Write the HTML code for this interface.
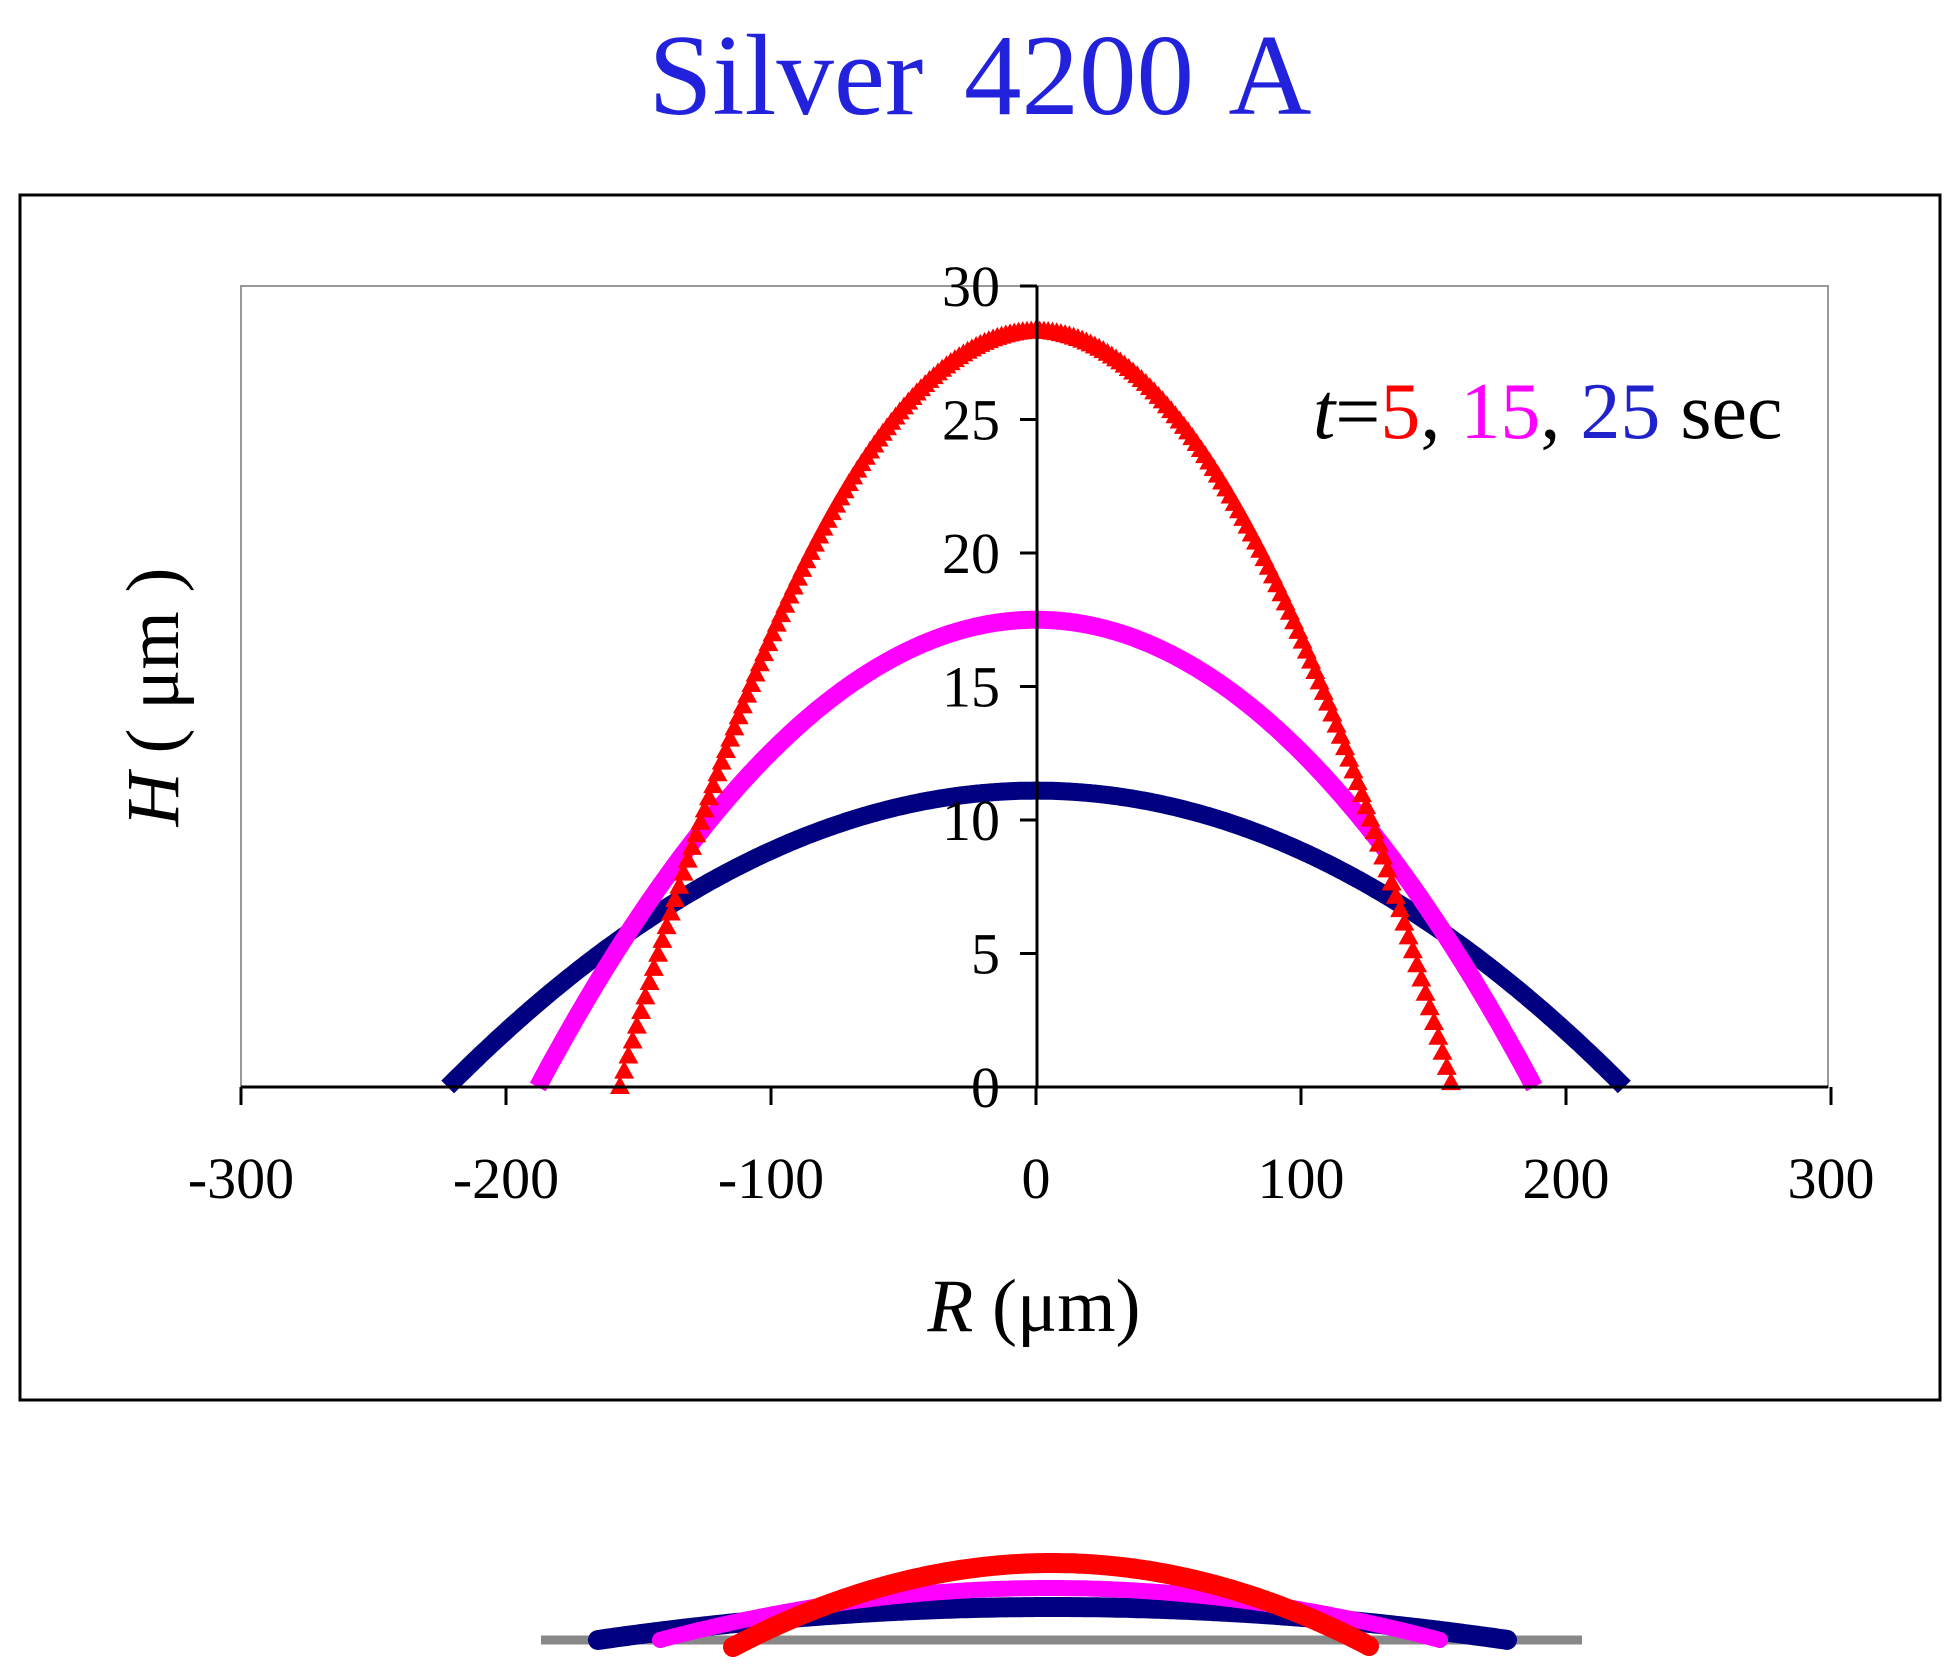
<!DOCTYPE html>
<html><head><meta charset="utf-8"><style>
html,body{margin:0;padding:0;background:#fff;}
svg{display:block;}
text{font-family:"Liberation Serif",serif;}
</style></head><body>
<svg id="s" width="1959" height="1671" viewBox="0 0 1959 1671" xmlns="http://www.w3.org/2000/svg">
<text x="980" y="114" font-size="115" fill="#2222dd" text-anchor="middle" word-spacing="12">Silver 4200 A</text>
<rect x="20" y="195" width="1920" height="1205" fill="none" stroke="#000" stroke-width="3"/>
<rect x="241" y="286" width="1587" height="801" fill="none" stroke="#999" stroke-width="2"/>
<g id="curves"></g>
<line x1="241" y1="1087" x2="1828" y2="1087" stroke="#000" stroke-width="3"/>
<line x1="1037" y1="286" x2="1037" y2="1087" stroke="#000" stroke-width="3"/>
<g id="ticks" stroke="#000" stroke-width="3"></g>
<g id="labels" font-size="58" fill="#000"></g>
<text x="1313" y="438" font-size="80"><tspan font-style="italic">t</tspan>=<tspan fill="#ff0000">5</tspan>, <tspan fill="#ff00ff">15</tspan>, <tspan fill="#2222cc">25</tspan> sec</text>
<text x="1034" y="1331" font-size="75" text-anchor="middle"><tspan font-style="italic">R</tspan> (μm)</text>
<text transform="translate(178,697) rotate(-90)" font-size="75" text-anchor="middle"><tspan font-style="italic">H</tspan> ( μm )</text>
<g id="inset"></g>
</svg>
<script>
var NS="http://www.w3.org/2000/svg";
function el(p,t,a){var e=document.createElementNS(NS,t);for(var k in a)e.setAttribute(k,a[k]);p.appendChild(e);return e;}
var X=function(r){return 1036+r*2.65;}, Y=function(h){return 1087-h*26.7;};
var ticks=document.getElementById('ticks'),labels=document.getElementById('labels');
for(var i=-3;i<=3;i++){var x=X(i*100);el(ticks,'line',{x1:x,y1:1087,x2:x,y2:1105});
 var t=el(labels,'text',{x:x,y:1198,'text-anchor':'middle'});t.textContent=(i*100).toString();}
for(var j=0;j<=6;j++){var y=Y(j*5);el(ticks,'line',{x1:1020,y1:y,x2:1037,y2:y});
 var t2=el(labels,'text',{x:1000,y:y+20,'text-anchor':'end'});t2.textContent=(j*5).toString();}
var cg=document.getElementById('curves');
function curve(h,R){var pts=[];for(var r=-R;r<=R;r+=1){pts.push(X(r).toFixed(1)+','+Y(h*(1-(r/R)*(r/R))).toFixed(1));}return pts;}
var p=curve(11.1,222);el(cg,'polyline',{points:p.join(' '),fill:'none',stroke:'#000080','stroke-width':18,'stroke-linejoin':'round'});
p=curve(17.5,188);el(cg,'polyline',{points:p.join(' '),fill:'none',stroke:'#ff00ff','stroke-width':18,'stroke-linejoin':'round'});
var R=157,h=28.3;
for(var r=-R;r<=R;r+=1.6){var cx=X(r),cy=Y(h*(1-(r/R)*(r/R)));
 el(cg,'polygon',{points:(cx)+','+(cy-11)+' '+(cx-10)+','+(cy+7)+' '+(cx+10)+','+(cy+7),fill:'#ff0000'});}
var ig=document.getElementById('inset');
el(ig,'line',{x1:541,y1:1640,x2:1582,y2:1640,stroke:'#888','stroke-width':9});
function ic(x1,x2,peak,base,col,w){var pts=[],c=(x1+x2)/2,hw=(x2-x1)/2;for(var x=x1;x<=x2;x+=3){var u=(x-c)/hw;var yy=base-(base-peak)*(1-u*u);pts.push(x+','+yy.toFixed(1));}
 el(ig,'polyline',{points:pts.join(' '),fill:'none',stroke:col,'stroke-width':w,'stroke-linecap':'round'});}
ic(598,1508,1607,1640,'#000080',20);
ic(660,1440,1588,1640,'#ff00ff',16);
ic(733,1371,1563,1647,'#ff0000',20);
</script>
</body></html>
